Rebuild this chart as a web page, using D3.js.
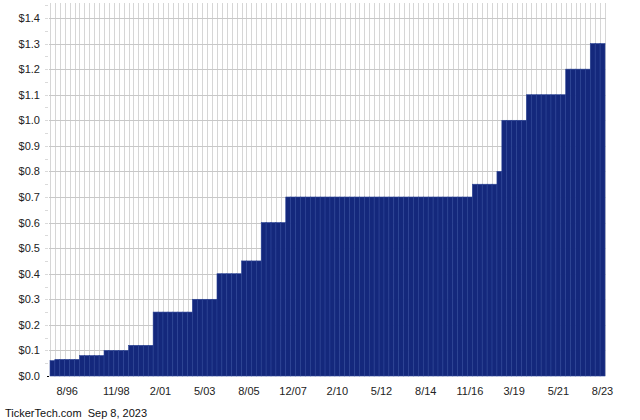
<!DOCTYPE html>
<html>
<head>
<meta charset="utf-8">
<script src="https://cdn.jsdelivr.net/npm/d3@7"></script>
<style>
  html, body { margin: 0; padding: 0; background: #fff; }
  svg { display: block; }
  text { font-family: Arial, "Liberation Sans", sans-serif; }
</style>
</head>
<body>
<svg id="chart" width="640" height="420"></svg>
<script>
// Quarterly dividend amounts (USD), oldest to newest
const payments = [
  0.06,
  0.065, 0.065, 0.065, 0.065, 0.065,
  0.08, 0.08, 0.08, 0.08, 0.08,
  0.10, 0.10, 0.10, 0.10, 0.10,
  0.12, 0.12, 0.12, 0.12, 0.12,
  0.25, 0.25, 0.25, 0.25, 0.25, 0.25, 0.25, 0.25,
  0.30, 0.30, 0.30, 0.30, 0.30,
  0.40, 0.40, 0.40, 0.40, 0.40,
  0.45, 0.45, 0.45, 0.45,
  0.60, 0.60, 0.60, 0.60, 0.60,
  0.70, 0.70, 0.70, 0.70, 0.70, 0.70, 0.70, 0.70, 0.70, 0.70,
  0.70, 0.70, 0.70, 0.70, 0.70, 0.70, 0.70, 0.70, 0.70, 0.70,
  0.70, 0.70, 0.70, 0.70, 0.70, 0.70, 0.70, 0.70, 0.70, 0.70,
  0.70, 0.70, 0.70, 0.70, 0.70, 0.70, 0.70, 0.70,
  0.75, 0.75, 0.75, 0.75, 0.75,
  0.80,
  1.00, 1.00, 1.00, 1.00, 1.00,
  1.10, 1.10, 1.10, 1.10, 1.10, 1.10, 1.10, 1.10,
  1.20, 1.20, 1.20, 1.20, 1.20,
  1.30, 1.30, 1.30
];
const tickLabels = ["8/96", "11/98", "2/01", "5/03", "8/05", "12/07", "2/10", "5/12", "8/14", "11/16", "3/19", "5/21", "8/23"];
const tickBars   = [3, 13, 22, 31, 40, 49, 58, 67, 76, 85, 94, 103, 112];
const yTicks = [0, 0.1, 0.2, 0.3, 0.4, 0.5, 0.6, 0.7, 0.8, 0.9, 1.0, 1.1, 1.2, 1.3, 1.4];
const yMinorTicks = [0.05, 0.15, 0.25, 0.35, 0.45, 0.55, 0.65, 0.75, 0.85, 0.95, 1.05, 1.15, 1.25, 1.35, 1.45];
const footer = "TickerTech.com  Sep 8, 2023";

const svg = d3.select("#chart");
const plotLeft = 50, plotRight = 605, plotTop = 3, plotBottom = 376;

const x = d3.scaleBand().domain(d3.range(payments.length)).range([plotLeft, plotRight]).padding(0);
const y = d3.scaleLinear().domain([0, 1.4]).range([plotBottom, 18]);

// vertical gridlines at each bar boundary
const vg = svg.append("g");
vg.selectAll("line").data(d3.range(payments.length + 1)).join("line")
  .attr("x1", i => Math.round(plotLeft + i * x.bandwidth()) + 0.5)
  .attr("x2", i => Math.round(plotLeft + i * x.bandwidth()) + 0.5)
  .attr("y1", plotTop).attr("y2", plotBottom)
  .attr("stroke", "#d6d6d6").attr("stroke-width", 1);

// horizontal gridlines
svg.append("g").selectAll("line").data(yTicks.filter(d => d > 0)).join("line")
  .attr("x1", plotLeft - 1).attr("x2", plotRight + 1)
  .attr("y1", d => Math.round(y(d)) + 0.5).attr("y2", d => Math.round(y(d)) + 0.5)
  .attr("stroke", "#c8c8c8").attr("stroke-width", 1);

// minor ticks
svg.append("g").selectAll("line").data(yMinorTicks.concat(yTicks.filter(d => d > 0))).join("line")
  .attr("x1", plotLeft - 5).attr("x2", plotLeft - 2)
  .attr("y1", d => Math.round(y(d)) + 0.5).attr("y2", d => Math.round(y(d)) + 0.5)
  .attr("stroke", "#dadada");

// bars
svg.append("g").selectAll("rect").data(payments).join("rect")
  .attr("x", (d, i) => x(i))
  .attr("width", x.bandwidth())
  .attr("y", d => y(d))
  .attr("height", d => plotBottom - y(d))
  .attr("fill", "#14287c")
  .attr("stroke", "#2c4496")
  .attr("stroke-width", 0.6);

// zero tick
svg.append("line").attr("x1", plotLeft - 3).attr("x2", plotLeft - 1)
  .attr("y1", plotBottom + 0.5).attr("y2", plotBottom + 0.5)
  .attr("stroke", "#000").attr("stroke-width", 1);

// y labels
const yAxis = d3.axisLeft(y).tickValues(yTicks).tickFormat(d => "$" + d3.format(".1f")(d)).tickSize(0).tickPadding(0);
const ya = svg.append("g").attr("transform", "translate(40,0)").call(yAxis);
ya.select(".domain").remove();
ya.selectAll("text").attr("font-size", 11).attr("fill", "#222").attr("font-family", "Arial, 'Liberation Sans', sans-serif");

// x labels
svg.append("g").selectAll("text").data(tickLabels).join("text")
  .attr("x", (d, i) => x(tickBars[i]) + x.bandwidth() / 2)
  .attr("y", 395)
  .attr("text-anchor", "middle")
  .attr("font-size", 11)
  .attr("fill", "#222")
  .text(d => d);

// footer
svg.append("text").attr("x", 5).attr("y", 417)
  .attr("font-size", 11).attr("fill", "#111")
  .style("white-space", "pre")
  .text(footer);
</script>
</body>
</html>
